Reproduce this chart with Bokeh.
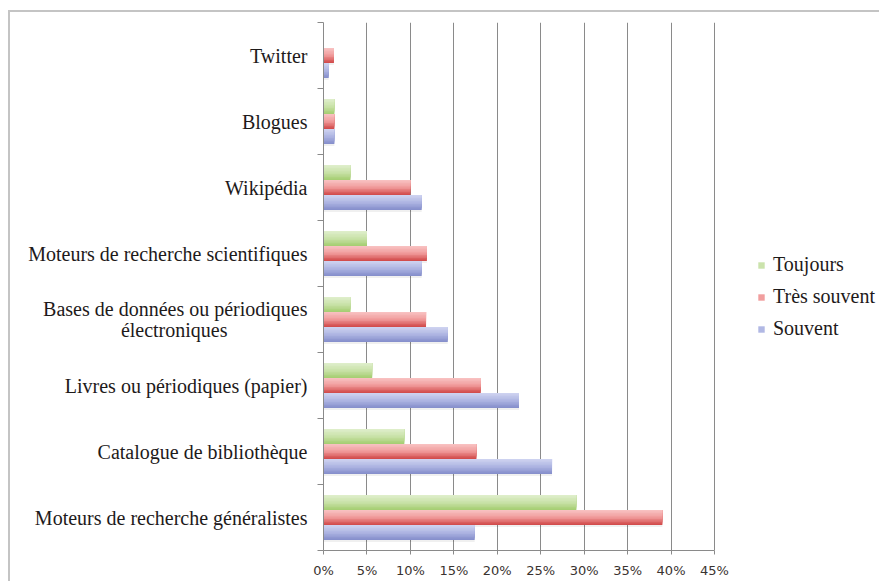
from bokeh.plotting import figure
from bokeh.models import Range1d, FixedTicker, CustomJSTickFormatter, Legend, LegendItem, ColumnDataSource
from bokeh.transform import dodge
from bokeh.embed import file_html
from bokeh.resources import INLINE

# ---------------- data ----------------
categories = [
    "Moteurs de recherche généralistes",
    "Catalogue de bibliothèque",
    "Livres ou périodiques (papier)",
    "Bases de données ou périodiques\nélectroniques\u2003\u2003\u2003\u2003",
    "Moteurs de recherche scientifiques",
    "Wikipédia",
    "Blogues",
    "Twitter",
]
toujours = [29.1, 9.3, 5.6, 3.1, 5.0, 3.1, 1.25, 0.0]
tres_souvent = [39.0, 17.6, 18.1, 11.8, 11.9, 10.0, 1.25, 1.2]
souvent = [17.4, 26.3, 22.5, 14.3, 11.3, 11.3, 1.25, 0.6]
series_names = ["Toujours", "Très souvent", "Souvent"]
x_ticks = [0, 5, 10, 15, 20, 25, 30, 35, 40, 45]
x_tick_labels = ["0%", "5%", "10%", "15%", "20%", "25%", "30%", "35%", "40%", "45%"]

# ---------------- style ----------------
LABEL_FONT = "Liberation Serif"
TICK_FONT = "DejaVu Sans"
GRID = "#8a8a8a"
BAR_H = 15 / 66
gradients = {
    "Toujours": ["#e0efcd", "#c9e2a8", "#a3cc6e"],
    "Très souvent": ["#f9c4c4", "#f09a9a", "#cf4444"],
    "Souvent": ["#d0d5f1", "#aeb5e2", "#838cca"],
}
offsets = {"Toujours": BAR_H, "Très souvent": 0.0, "Souvent": -BAR_H}

# frame spans 323..881 px; 0..45 % occupies 323..714 px
X_END = 45 * (881 - 323) / (714 - 323)


def hex2rgb(h):
    return tuple(int(h[i:i + 2], 16) for i in (1, 3, 5))


def interp(stops, t):
    n = len(stops) - 1
    k = min(int(t * n), n - 1)
    lt = t * n - k
    a, b = hex2rgb(stops[k]), hex2rgb(stops[k + 1])
    return "#%02x%02x%02x" % tuple(round(a[i] + (b[i] - a[i]) * lt) for i in range(3))


p = figure(
    width=871, height=571,
    x_range=Range1d(0, X_END), y_range=Range1d(0, len(categories)),
    output_backend="svg", toolbar_location=None,
    min_border_left=313, min_border_right=0, min_border_top=10, min_border_bottom=33,
)
p.styles = {"border-top": "2px solid #c4c4c4", "border-left": "2px solid #c4c4c4",
            "margin-top": "10px", "margin-left": "8px"}
p.outline_line_color = None
p.background_fill_color = "white"
p.border_fill_color = "white"

centers = [i + 0.5 for i in range(len(categories))]
source = ColumnDataSource(dict(y=centers, cat=categories, **{
    "Toujours": toujours, "Très souvent": tres_souvent, "Souvent": souvent}))

N = 10
legend_renderers = {}
for name in series_names:
    stops = gradients[name]
    # soft shadow
    p.hbar(y=dodge("y", offsets[name] - 0.03), right=name, left=0, height=BAR_H,
           source=source, fill_color="#000000", fill_alpha=0.06, line_color=None)
    for k in range(N):
        frac = 1 - k / N  # covered fraction from top
        h = BAR_H * frac
        shift = offsets[name] + BAR_H / 2 - h / 2
        color = interp(stops, 1 - (k + 0.5) / N)
        r = p.hbar(y=dodge("y", shift), right=name, left=0, height=h,
                   source=source, fill_color=color, line_color=None)
        if k == N // 2:
            legend_renderers[name] = r

# grid
p.ygrid.grid_line_color = None
p.xgrid.grid_line_color = GRID
p.xgrid.grid_line_width = 1
p.xgrid.ticker = FixedTicker(ticks=x_ticks)

# x axis
xa = p.xaxis[0]
xa.ticker = FixedTicker(ticks=x_ticks)
xa.bounds = (x_ticks[0], x_ticks[-1])
xa.major_label_overrides = {t: l for t, l in zip(x_ticks, x_tick_labels)}
xa.axis_line_color = GRID
xa.major_tick_line_color = GRID
xa.major_tick_out = 4
xa.major_tick_in = 0
xa.minor_tick_line_color = None
xa.major_label_standoff = 8
xa.major_label_text_font = TICK_FONT
xa.major_label_text_font_size = "13px"
xa.major_label_text_color = "#3a3330"

# y axis
ya = p.yaxis[0]
ya.ticker = FixedTicker(ticks=centers, minor_ticks=list(range(len(categories) + 1)))
ya.formatter = CustomJSTickFormatter(args=dict(labels=categories),
                                     code="return labels[Math.floor(tick)] || '';")
ya.axis_line_color = GRID
ya.major_tick_line_color = None
ya.major_tick_out = 0
ya.major_tick_in = 0
ya.minor_tick_line_color = GRID
ya.minor_tick_out = 6
ya.minor_tick_in = 0
ya.major_label_standoff = 10
ya.major_label_text_font = LABEL_FONT
ya.major_label_text_font_size = "20px"
ya.major_label_text_line_height = 0.98
ya.major_label_text_color = "#1e1a1a"

# legend
items = [LegendItem(label=name, renderers=[legend_renderers[name]]) for name in series_names]
legend = Legend(items=items, location=(434, 210), orientation="vertical",
                glyph_width=8, glyph_height=8, label_height=8, spacing=9,
                padding=0, margin=0, label_standoff=8,
                border_line_color=None, background_fill_alpha=0,
                label_text_font=LABEL_FONT, label_text_font_size="20px",
                label_text_color="#1e1a1a")
p.add_layout(legend, "center")

open("out.html", "w").write(file_html(p, INLINE))
